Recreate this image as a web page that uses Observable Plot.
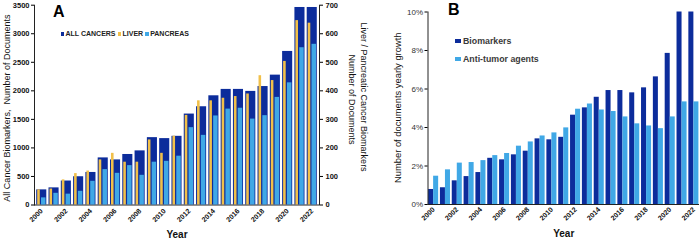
<!DOCTYPE html>
<html>
<head>
<meta charset="utf-8">
<script src="https://cdn.jsdelivr.net/npm/d3@7"></script>
<script src="https://cdn.jsdelivr.net/npm/@observablehq/plot@0.6"></script>
<style>
  html, body { margin: 0; padding: 0; background: #fff; }
  #wrap { position: relative; width: 700px; height: 242px; overflow: hidden; background: #fff;
          font-family: "Liberation Sans", Arial, sans-serif; }
  .layer { position: absolute; top: 0; }
  .letter { position: absolute; font-size: 16px; font-weight: bold; line-height: 16px; color: #000; }
  .legA { position: absolute; left: 60.7px; top: 30.3px; display: flex; align-items: center; height: 8px;
          font-size: 7px; font-weight: bold; line-height: 8px; color: #222; }
  .legA .item { display: flex; align-items: center; margin-right: 2.2px; }
  .legA .sw { width: 3.5px; height: 3.7px; margin-right: 1.3px; }
  .legB { position: absolute; left: 455px; display: flex; align-items: center; height: 10px;
          font-size: 8.8px; font-weight: bold; line-height: 10px; color: #3a3a3a; }
  .legB .sw { width: 5.5px; height: 4.3px; margin-right: 2.5px; }
</style>
</head>
<body>
<div id="wrap">
  <div id="a1" class="layer" style="left:0"></div>
  <div id="a2" class="layer" style="left:0"></div>
  <div id="b" class="layer" style="left:372px"></div>
</div>
<script>
// ---------- data ----------
const years = [2000, 2001, 2002, 2003, 2004, 2005, 2006, 2007, 2008, 2009, 2010, 2011,
               2012, 2013, 2014, 2015, 2016, 2017, 2018, 2019, 2020, 2021, 2022];
const xTicks = [2000, 2002, 2004, 2006, 2008, 2010, 2012, 2014, 2016, 2018, 2020, 2022];

// Panel A
const allCancers = [265, 300, 420, 495, 570, 825, 790, 885, 948, 1180, 1163, 1203,
                    1593, 1721, 1913, 2025, 2025, 1990, 2075, 2275, 2690, 3460, 3460];
const liver      = [53, 56, 88, 110, 119, 158, 181, 150, 150, 228, 181, 241,
                    314, 365, 365, 374, 380, 389, 453, 436, 503, 646, 637];
const pancreas   = [25, 41, 38, 48, 83, 124, 111, 138, 104, 150, 153, 171,
                    271, 244, 312, 336, 339, 301, 313, 377, 428, 551, 563];
const leftTicks  = [0, 500, 1000, 1500, 2000, 2500, 3000, 3500];
const rightTicks = [0, 100, 200, 300, 400, 500, 600, 700];
const legendA = ["ALL CANCERS", "LIVER", "PANCREAS"];
const labelAleft = "All Cancer Biomarkers,  Number of Documents";
const labelAright1 = "Liver / Pancreatic Cancer Biomarkers";
const labelAright2 = "Number of Documents";

// Panel B (percent yearly growth)
const biomarkers = [0.78, 0.87, 1.23, 1.45, 1.66, 2.40, 2.32, 2.58, 2.77, 3.41, 3.36, 3.49,
                    4.64, 5.02, 5.57, 5.92, 5.92, 5.80, 6.06, 6.63, 7.85, 10, 10];
const antitumor  = [1.47, 1.80, 2.15, 2.18, 2.28, 2.54, 2.65, 3.03, 3.25, 3.56, 3.72, 3.98,
                    4.95, 5.22, 4.91, 4.83, 4.55, 4.19, 4.08, 3.94, 4.55, 5.33, 5.33];
const growthTicks = [0, 2, 4, 6, 8, 10];
const legendB = ["Biomarkers", "Anti-tumor agents"];
const labelB = "Number of documents yearly growth";

// ---------- styles ----------
const navy = "#0c2c9b", gold = "#f1c04a", sky = "#40a8e6";
const font = "'Liberation Sans', Arial, sans-serif";
const plain = d => String(d);

const rowsA = years.map((y, i) => ({year: y, all: allCancers[i], liver: liver[i], pancreas: pancreas[i]}));
const rowsB = years.map((y, i) => ({year: y, bio: biomarkers[i], anti: antitumor[i]}));

// common geometry of panel A
const geomA = {width: 372, height: 242, marginLeft: 34, marginRight: 53, marginTop: 4.7, marginBottom: 37.5};
const xA = {type: "band", domain: years, padding: 0.18, round: false};

// ---------- Panel A: layer 1 (all cancers, left axis) ----------
const a1 = Plot.plot({
  ...geomA,
  style: {background: "transparent", fontFamily: font, overflow: "visible"},
  x: {...xA},
  y: {domain: [0, 3500]},
  marks: [
    Plot.barY(rowsA, {x: "year", y: "all", fill: navy}),
    Plot.ruleY([0], {stroke: "#222"}),
    Plot.frame({anchor: "left", stroke: "#222"}),
    Plot.axisY({ticks: leftTicks, tickFormat: plain, tickSize: 3, tickPadding: 2, fontSize: 7.5,
                fontWeight: "bold", fill: "#111", label: null}),
    Plot.axisX({ticks: xTicks, tickFormat: plain, tickRotate: -45, tickSize: 0, tickPadding: 5,
                fontSize: 7, fontWeight: "bold", fill: "#111", label: null}),
    Plot.text([labelAleft], {text: d => d, frameAnchor: "left", textAnchor: "middle", rotate: -90,
                dx: -27, dy: 3, fontSize: 9, fill: "#111"}),
    Plot.text(["Year"], {text: d => d, frameAnchor: "bottom", dy: 32.5, fontSize: 10,
                fontWeight: "bold", fill: "#111"})
  ]
});
document.getElementById("a1").appendChild(a1);

// ---------- Panel A: layer 2 (liver / pancreas, right axis) ----------
const a2 = Plot.plot({
  ...geomA,
  style: {background: "transparent", fontFamily: font, overflow: "visible"},
  x: {...xA, axis: null},
  y: {domain: [0, 700]},
  marks: [
    Plot.barY(rowsA, {x: "year", y: "liver", fill: gold, insetLeft: 1, insetRight: 6.5}),
    Plot.barY(rowsA, {x: "year", y: "pancreas", fill: sky, insetLeft: 4.8, insetRight: 0.8}),
    Plot.frame({anchor: "right", stroke: "#222"}),
    Plot.axisY({anchor: "right", ticks: rightTicks, tickFormat: plain, tickSize: 3, tickPadding: 3,
                fontSize: 7.5, fontWeight: "bold", fill: "#111", label: null}),
    Plot.text([labelAright1], {text: d => d, frameAnchor: "right", textAnchor: "middle", rotate: 90,
                dx: 44, dy: -8, fontSize: 9, fill: "#111"}),
    Plot.text([labelAright2], {text: d => d, frameAnchor: "right", textAnchor: "middle", rotate: 90,
                dx: 32, dy: -5.5, fontSize: 9, fill: "#111"})
  ]
});
document.getElementById("a2").appendChild(a2);

// ---------- Panel B ----------
const b = Plot.plot({
  width: 328, height: 242, marginLeft: 55.5, marginRight: 1, marginTop: 11.5, marginBottom: 38,
  style: {background: "transparent", fontFamily: font, overflow: "visible"},
  x: {type: "band", domain: years, paddingInner: 0.15, paddingOuter: 0.05, round: false},
  y: {domain: [0, 10]},
  marks: [
    Plot.barY(rowsB, {x: "year", y: "bio", fill: navy, insetRight: 5.03}),
    Plot.barY(rowsB, {x: "year", y: "anti", fill: sky, insetLeft: 5.03}),
    Plot.ruleY([0], {stroke: "#222"}),
    Plot.frame({anchor: "left", stroke: "#222"}),
    Plot.axisY({ticks: growthTicks, tickFormat: d => d + "%", tickSize: 3, tickPadding: 2,
                fontSize: 8, fill: "#333", label: null}),
    Plot.axisX({ticks: xTicks, tickFormat: plain, tickRotate: -45, tickSize: 0, tickPadding: 4,
                fontSize: 7, fontWeight: "bold", fill: "#111", label: null}),
    Plot.text([labelB], {text: d => d, frameAnchor: "left", textAnchor: "middle", rotate: -90,
                dx: -30.5, dy: -0.5, fontSize: 9.4, fill: "#111"}),
    Plot.text(["Year"], {text: d => d, frameAnchor: "bottom", dy: 32.5, fontSize: 10,
                fontWeight: "bold", fill: "#111"})
  ]
});
document.getElementById("b").appendChild(b);

// ---------- letters and legends ----------
const wrap = document.getElementById("wrap");
function addLetter(txt, left, top) {
  const d = document.createElement("div");
  d.className = "letter"; d.textContent = txt;
  d.style.left = left + "px"; d.style.top = top + "px";
  wrap.appendChild(d);
}
addLetter("A", 53, 4.3);
addLetter("B", 448, 1.5);

const legA = document.createElement("div");
legA.className = "legA";
[navy, gold, sky].forEach((c, i) => {
  const it = document.createElement("div"); it.className = "item";
  const sw = document.createElement("div"); sw.className = "sw"; sw.style.background = c;
  const t = document.createElement("span"); t.textContent = legendA[i];
  it.appendChild(sw); it.appendChild(t); legA.appendChild(it);
});
wrap.appendChild(legA);

[navy, sky].forEach((c, i) => {
  const it = document.createElement("div"); it.className = "legB";
  it.style.top = [36, 54.3][i] + "px";
  const sw = document.createElement("div"); sw.className = "sw"; sw.style.background = c;
  const t = document.createElement("span"); t.textContent = legendB[i];
  it.appendChild(sw); it.appendChild(t); wrap.appendChild(it);
});
</script>
</body>
</html>
